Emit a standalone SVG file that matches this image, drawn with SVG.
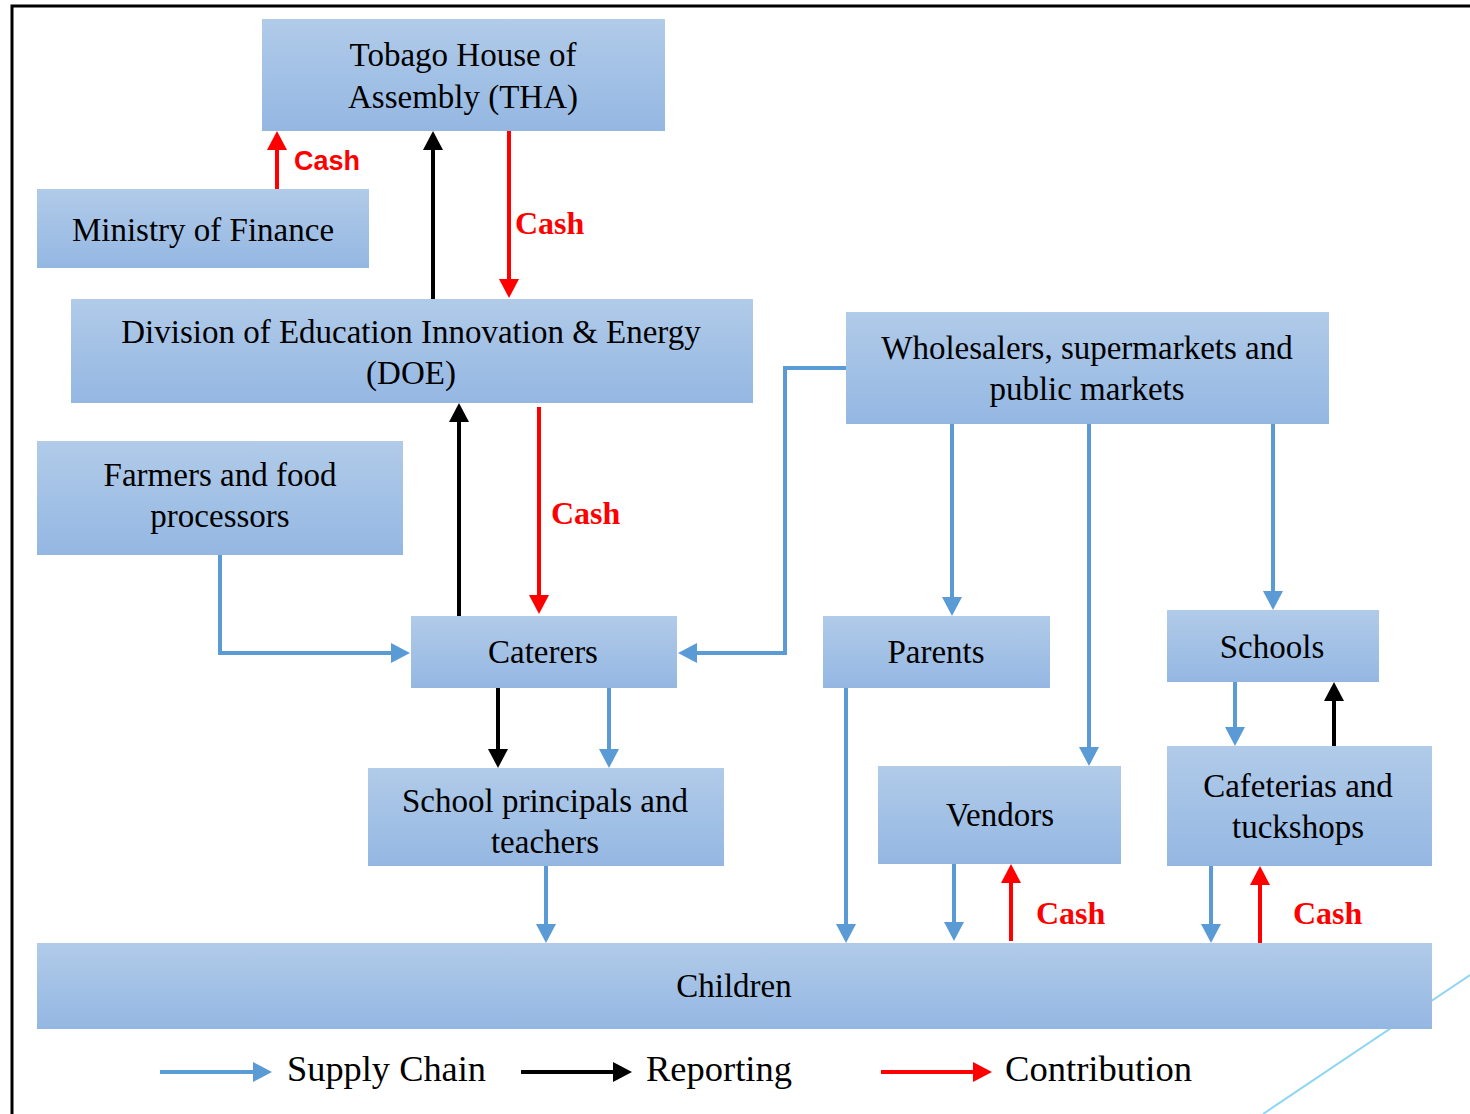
<svg xmlns="http://www.w3.org/2000/svg" width="1470" height="1114" viewBox="0 0 1470 1114">
<defs>
<linearGradient id="g" x1="0" y1="0" x2="0" y2="1">
<stop offset="0" stop-color="#b1cbe9"/>
<stop offset="1" stop-color="#94b7e2"/>
</linearGradient>
<marker id="ab" viewBox="0 0 20 20" refX="9" refY="10" markerWidth="20" markerHeight="20" markerUnits="userSpaceOnUse" orient="auto"><path d="M0,0 L19,10 L0,20 z" fill="#5b9bd5"/></marker>
<marker id="ak" viewBox="0 0 20 20" refX="9" refY="10" markerWidth="20" markerHeight="20" markerUnits="userSpaceOnUse" orient="auto"><path d="M0,0 L19,10 L0,20 z" fill="#000"/></marker>
<marker id="ar" viewBox="0 0 20 20" refX="9" refY="10" markerWidth="20" markerHeight="20" markerUnits="userSpaceOnUse" orient="auto"><path d="M0,0 L19,10 L0,20 z" fill="#ff0000"/></marker>
</defs>
<style>
.box{fill:url(#g);}
.t{font-family:"Liberation Serif","Times New Roman",serif;font-size:33px;fill:#000;text-anchor:middle;}
.cash{font-family:"Liberation Serif","Times New Roman",serif;font-size:32px;font-weight:bold;fill:#ff0000;}
.cashs{font-family:"Liberation Sans",Arial,sans-serif;font-size:27px;font-weight:bold;fill:#ff0000;}
.leg{font-family:"Liberation Serif","Times New Roman",serif;font-size:36px;fill:#000;}
.b{stroke:#5b9bd5;stroke-width:4;fill:none;marker-end:url(#ab);}
.k{stroke:#000;stroke-width:4;fill:none;marker-end:url(#ak);}
.r{stroke:#ff0000;stroke-width:4;fill:none;marker-end:url(#ar);}
</style>
<rect width="1470" height="1114" fill="#fff"/>
<path d="M12,1114 V6 H1470" fill="none" stroke="#000" stroke-width="3"/>
<line x1="1470" y1="975" x2="1263" y2="1114" stroke="#8fd6f2" stroke-width="2"/>

<g id="tha"><rect class="box" x="262" y="19" width="403" height="112"/><text class="t" x="463" y="66">Tobago House of</text><text class="t" x="463" y="108">Assembly (THA)</text></g>
<g id="mof"><rect class="box" x="37" y="189" width="332" height="79"/><text class="t" x="203" y="241">Ministry of Finance</text></g>
<g id="doe"><rect class="box" x="71" y="299" width="682" height="104"/><text class="t" x="411" y="343">Division of Education Innovation &amp; Energy</text><text class="t" x="411" y="384">(DOE)</text></g>
<g id="farmers"><rect class="box" x="37" y="441" width="366" height="114"/><text class="t" x="220" y="486">Farmers and food</text><text class="t" x="220" y="527">processors</text></g>
<g id="caterers"><rect class="box" x="411" y="616" width="266" height="72"/><text class="t" x="543" y="663">Caterers</text></g>
<g id="principals"><rect class="box" x="368" y="768" width="356" height="98"/><text class="t" x="545" y="812">School principals and</text><text class="t" x="545" y="853">teachers</text></g>
<g id="wholesalers"><rect class="box" x="846" y="312" width="483" height="112"/><text class="t" x="1087" y="359">Wholesalers, supermarkets and</text><text class="t" x="1087" y="400">public markets</text></g>
<g id="parents"><rect class="box" x="823" y="616" width="227" height="72"/><text class="t" x="936" y="663">Parents</text></g>
<g id="schools"><rect class="box" x="1167" y="610" width="212" height="72"/><text class="t" x="1272" y="658">Schools</text></g>
<g id="vendors"><rect class="box" x="878" y="766" width="243" height="98"/><text class="t" x="1000" y="826">Vendors</text></g>
<g id="cafeterias"><rect class="box" x="1167" y="746" width="265" height="120"/><text class="t" x="1298" y="797">Cafeterias and</text><text class="t" x="1298" y="838">tuckshops</text></g>
<g id="children"><rect class="box" x="37" y="943" width="1395" height="86"/><text class="t" x="734" y="997">Children</text></g>

<g id="connectors">
<line class="r" x1="277" y1="189" x2="277" y2="141"/>
<line class="k" x1="433" y1="299" x2="433" y2="141"/>
<line class="r" x1="509" y1="131" x2="509" y2="288"/>
<line class="k" x1="459" y1="616" x2="459" y2="413"/>
<line class="r" x1="539" y1="407" x2="539" y2="604"/>
<polyline class="b" points="220,555 220,653 400,653"/>
<polyline class="b" points="846,368 785,368 785,653 688,653"/>
<line class="b" x1="952" y1="424" x2="952" y2="606"/>
<line class="b" x1="1089" y1="424" x2="1089" y2="756"/>
<line class="b" x1="1273" y1="424" x2="1273" y2="600"/>
<line class="k" x1="498" y1="688" x2="498" y2="758"/>
<line class="b" x1="609" y1="688" x2="609" y2="758"/>
<line class="b" x1="546" y1="866" x2="546" y2="933"/>
<line class="b" x1="846" y1="688" x2="846" y2="933"/>
<line class="b" x1="954" y1="864" x2="954" y2="931"/>
<line class="r" x1="1011" y1="941" x2="1011" y2="874"/>
<line class="b" x1="1235" y1="682" x2="1235" y2="736"/>
<line class="k" x1="1334" y1="746" x2="1334" y2="692"/>
<line class="b" x1="1211" y1="866" x2="1211" y2="933"/>
<line class="r" x1="1260" y1="943" x2="1260" y2="876"/>
</g>
<g id="labels">
<text class="cashs" x="294" y="170">Cash</text>
<text class="cash" x="515" y="234">Cash</text>
<text class="cash" x="551" y="524">Cash</text>
<text class="cash" x="1036" y="924">Cash</text>
<text class="cash" x="1293" y="924">Cash</text>
</g>
<g id="legend">
<line class="b" x1="160" y1="1072" x2="262" y2="1072"/>
<text class="leg" x="287" y="1081" textLength="199" lengthAdjust="spacingAndGlyphs">Supply Chain</text>
<line class="k" x1="521" y1="1072" x2="622" y2="1072"/>
<text class="leg" x="646" y="1081" textLength="146" lengthAdjust="spacingAndGlyphs">Reporting</text>
<line class="r" x1="881" y1="1072" x2="982" y2="1072"/>
<text class="leg" x="1005" y="1081" textLength="187" lengthAdjust="spacingAndGlyphs">Contribution</text>
</g>
</svg>
